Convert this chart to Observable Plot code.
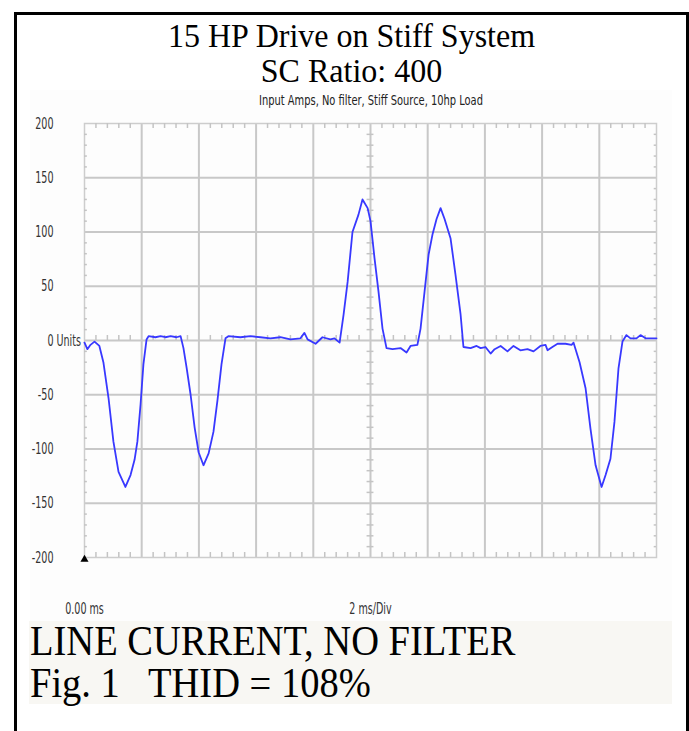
<!DOCTYPE html>
<html>
<head>
<meta charset="utf-8">
<script src="https://cdn.jsdelivr.net/npm/d3@7"></script>
<script src="https://cdn.jsdelivr.net/npm/@observablehq/plot@0.6"></script>
<style>
  html, body { margin: 0; padding: 0; background: #fff; }
  body { width: 689px; height: 731px; position: relative; overflow: hidden; }
  .frame { position: absolute; left: 14px; top: 12px; width: 675px; height: 760px; border: 3px solid #000; box-sizing: border-box; }
  .panel { position: absolute; left: 30px; top: 90px; width: 642px; height: 531px; background: #fdfdfd; }
  .capbox { position: absolute; left: 29px; top: 621px; width: 643px; height: 83px; background: #f8f7f3; }
  .title { position: absolute; left: 14px; width: 675px; text-align: center; font-family: "Liberation Serif", "DejaVu Serif", serif; font-size: 32px; line-height: 32px; color: #000; white-space: nowrap; transform: scaleY(1.06); transform-origin: 0 27px; }
  .sub { position: absolute; left: 171px; width: 400px; text-align: center; font-family: "DejaVu Sans", sans-serif; font-stretch: condensed; font-size: 11px; line-height: 12px; color: #222; white-space: nowrap; transform: scaleY(1.2); transform-origin: 0 10px; }
  .cap { position: absolute; left: 30px; font-family: "Liberation Serif", "DejaVu Serif", serif; font-size: 38.5px; line-height: 38px; color: #000; white-space: pre; transform: scaleY(1.07); transform-origin: 0 32px; }
  #chart { position: absolute; left: 0; top: 100px; }
  #chart text { font-stretch: condensed; }
</style>
</head>
<body>
<div class="frame"></div>
<div class="panel"></div>
<div class="capbox"></div>
<div class="title" style="top:20px">15 HP Drive on Stiff System</div>
<div class="title" style="top:55px">SC Ratio: 400</div>
<div class="sub" style="top:96px">Input Amps, No filter, Stiff Source, 10hp Load</div>
<div class="cap" style="top:623px">LINE CURRENT, NO FILTER</div>
<div class="cap" style="top:665px">Fig. 1   THID = 108%</div>
<div id="chart"></div>
<script>
// Time in ms (2 ms per division, 10 divisions)
const timeMs = [
  0, 0.10, 0.21, 0.35, 0.52, 0.66, 0.84, 1.01, 1.19, 1.43, 1.61, 1.75, 1.85, 1.96, 2.06, 2.17, 2.24,
  2.48, 2.66, 2.83, 3.01, 3.22, 3.36, 3.46, 3.57, 3.71, 3.85, 3.99, 4.16, 4.34, 4.51, 4.65, 4.79, 4.93, 5.03,
  5.45, 5.80, 6.15, 6.50, 6.85, 7.20, 7.55, 7.69, 7.80, 8.08, 8.32, 8.60, 8.74, 8.92,
  9.06, 9.20, 9.37, 9.58, 9.72, 9.90, 10.00, 10.14, 10.28, 10.42, 10.56, 10.77, 11.05, 11.26, 11.40, 11.64,
  11.75, 11.89, 12.03, 12.17, 12.31, 12.45, 12.59, 12.80, 12.97, 13.15, 13.25, 13.50, 13.71, 13.85, 14.02,
  14.20, 14.34, 14.55, 14.79, 15.00, 15.24, 15.49, 15.70, 15.94, 16.12, 16.19, 16.36, 16.54, 16.82, 17.03,
  17.10, 17.31, 17.52, 17.69, 17.87, 18.08, 18.22, 18.39, 18.53, 18.67, 18.81, 18.95, 19.09, 19.30, 19.44, 19.62, 20.00
];
// Input current in amps
const currentA = [
  -2, -8, -4, -1, -5, -20, -53, -93, -121, -135, -124, -110, -93, -59, -22, 1, 4,
  3, 4, 3, 4, 3, 4, -7, -25, -50, -80, -103, -115, -104, -84, -55, -22, 2, 4,
  3, 4, 3, 2, 3, 1, 2, 7, 1, -3, 3, 1, 2, -2,
  24, 54, 100, 116, 130, 122, 110, 76, 45, 11, -7, -8, -7, -11, -5, -4,
  11, 45, 79, 98, 112, 122, 112, 94, 61, 24, -6, -7, -5, -7, -6,
  -12, -8, -5, -10, -5, -9, -8, -10, -5, -4, -9, -6, -3, -3, -4,
  -2, -20, -44, -81, -115, -135, -124, -109, -75, -26, -1, 5, 2, 2, 5, 2, 2
];
const yTicks = [-200, -150, -100, -50, 0, 50, 100, 150, 200];
const yGrid = [-150, -100, -50, 0, 50, 100, 150];
const xGrid = [2, 4, 6, 8, 10, 12, 14, 16, 18];
const xLabelTicks = [0, 10];
const xLabels = ["0.00 ms", "2 ms/Div"];

const data = timeMs.map((t, i) => ({t, v: currentA[i]}));
const minorX = d3.range(1, 50).map(i => i * 0.4).filter((d, i) => (i + 1) % 5 !== 0);
const minorY = d3.range(-19, 20).map(i => i * 10).filter(d => d % 50 !== 0);

const tickFont = "'DejaVu Sans', sans-serif";
const minorStroke = "#c4c4c4";

const chart = Plot.plot({
  width: 689,
  height: 530,
  marginLeft: 84,
  marginRight: 33,
  marginTop: 23,
  marginBottom: 73,
  style: {background: "transparent", overflow: "visible", fontFamily: tickFont},
  x: {domain: [0, 20], axis: null},
  y: {domain: [-200, 200], axis: null},
  marks: [
    Plot.ruleY(yGrid, {stroke: "#c8c8c8", strokeWidth: 2}),
    Plot.ruleX(xGrid, {stroke: "#c8c8c8", strokeWidth: 2}),
    Plot.frame({stroke: "#cdcdcd", strokeWidth: 1.5}),
    Plot.ruleX(minorX, {y1: 200, y2: 195.4, stroke: minorStroke, strokeWidth: 1.5}),
    Plot.ruleX(minorX, {y1: -200, y2: -195.4, stroke: minorStroke, strokeWidth: 1.5}),
    Plot.ruleX(minorX, {y1: 0, y2: 4.6, stroke: minorStroke, strokeWidth: 1.5}),
    Plot.ruleY(minorY, {x1: 9.88, x2: 10.12, stroke: minorStroke, strokeWidth: 1.5}),
    Plot.ruleY(minorY, {x1: 0, x2: 0.1, stroke: minorStroke, strokeWidth: 1.5}),
    Plot.ruleY(minorY, {x1: 19.92, x2: 20, stroke: minorStroke, strokeWidth: 1.5}),
    Plot.axisY(yTicks, {anchor: "left", label: null, tickSize: 0, tickPadding: 31, fontSize: 13, fill: "#333",
      tickFormat: d => String(d)}),
    Plot.text(["Units"], {x: 0, y: 0, dx: -28, textAnchor: "start", fontSize: 13, fill: "#333"}),
    Plot.axisX(xLabelTicks, {anchor: "bottom", label: null, tickSize: 0, tickPadding: 45, fontSize: 13, fill: "#333",
      tickFormat: d => xLabels[xLabelTicks.indexOf(d)]}),
    Plot.dot([0], {x: 0, y: -200, dy: 2, symbol: "triangle", r: 3, fill: "#000", stroke: "none"}),
    Plot.line(data, {x: "t", y: "v", stroke: "#3838ff", strokeWidth: 1.8})
  ]
});
// Tall, narrow glyphs like the oscilloscope software's font
chart.querySelectorAll("text").forEach(t => {
  const tr = t.getAttribute("transform") || "";
  t.setAttribute("transform", `${tr} scale(0.82,1.22)`);
});
document.getElementById("chart").appendChild(chart);
</script>
</body>
</html>
